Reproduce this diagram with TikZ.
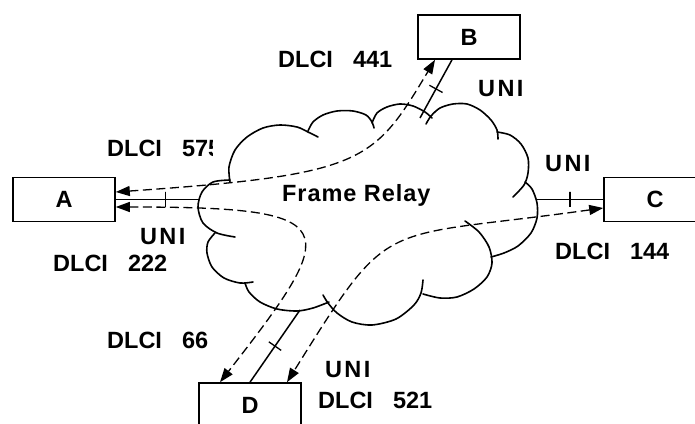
\documentclass[tikz,border=0pt]{standalone}
\usepackage{fontspec}
\setmainfont{Liberation Sans}
\usetikzlibrary{arrows.meta,calc}

\newcommand{\dlci}[1]{DLCI\hspace{20pt}#1}

\begin{document}
\begin{tikzpicture}[
  x=1pt, y=1pt,
  font=\fontsize{23.5}{27}\selectfont\bfseries,
  box/.style={rectangle, draw, line width=1.6pt, minimum width=102pt, minimum height=44pt, inner sep=0pt},
  lbl/.style={anchor=base west, inner sep=0pt},
  unilbl/.style={lbl, font=\fontsize{23.5}{27}\selectfont\bfseries\addfontfeature{LetterSpace=10}},
  cloud/.style={line width=1.6pt, line cap=round},
  uni/.style={line width=1.5pt},
  tickmark/.style={draw, sloped, line width=1.3pt, inner sep=0pt, minimum width=0pt, minimum height=15pt},
  vc/.style={<->, >={Triangle[length=14pt,width=10pt]}, line width=1.3pt, dash pattern=on 9pt off 4.5pt}
]
  \path[use as bounding box, clip] (0,0) rectangle (695,423);
  % Cloud: Frame Relay network
  \draw[cloud] plot[smooth] coordinates {(230,241) (229,256) (235,273) (247,286) (263,295) (280,298) (297,296) (308,291) (318,286)};
  \draw[cloud] plot[smooth] coordinates {(308,292) (313,301) (323,308) (337,312) (353,312) (366,308) (372,301) (374,295)};
  \draw[cloud] plot[smooth] coordinates {(372,300) (377,310) (387,316) (400,319) (413,317) (425,311) (432,305)};
  \draw[cloud] plot[smooth] coordinates {(426,299) (431,307) (440,315) (453,319) (467,319) (480,313) (491,303) (497,293) (498,284)};
  \draw[cloud] plot[smooth] coordinates {(497,291) (510,288) (521,279) (528,265) (528,250) (524,238) (513,226)};
  \draw[cloud] plot[smooth] coordinates {(525,241) (532,234) (537,220) (537,205) (531,190) (518,177) (504,170) (491,166)};
  \draw[cloud] plot[smooth] coordinates {(465,202) (479,191) (489,176) (492,160) (487,146) (474,134) (457,126) (440,125) (423,129)};
  \draw[cloud] plot[smooth] coordinates {(423,143) (421,130) (414,118) (396,104) (372,98) (352,101) (337,110) (328,120) (323,128)};
  \draw[cloud] plot[smooth] coordinates {(329,121) (313,115) (297,112) (277,114) (260,121) (249,131) (245,140)};
  \draw[cloud] plot[smooth] coordinates {(253,141) (240,140) (224,145) (212,156) (207,170) (208,181) (215,190)};
  \draw[cloud] plot[smooth] coordinates {(235,186) (217,190) (203,200) (198,216) (202,231) (213,241) (230,243)};
  \node[lbl, font=\fontsize{23.5}{27}\selectfont\bfseries\addfontfeature{LetterSpace=4}] (fr) at (282,221) {Frame Relay};
  % End devices
  \node[box] (A) at (64,223.5) {A};
  \node[box] (B) at (469,386) {B};
  \node[box] (C) at (655,223.5) {C};
  \node[box] (D) at (250,18) {D};
  % Access points on the cloud
  \coordinate (fa) at (200,223.5);
  \coordinate (fb) at (420,305);
  \coordinate (fc) at (537,223.5);
  \coordinate (fd) at (300,113);
  % UNI links
  \draw[uni] (A.east) -- node[tickmark, pos=0.59] (tA) {} (fa);
  \draw[uni] ([xshift=-17pt]B.south) -- node[tickmark, pos=0.5] (tB) {} (fb);
  \draw[uni] (C.west) -- node[tickmark, pos=0.5] (tC) {} (fc);
  \draw[uni] (D.north) -- node[tickmark, pos=0.5] (tD) {} (fd);
  % Virtual circuits
  \draw[vc] ([yshift=7.5pt]A.east) .. controls +(4:250) and +(239:120) .. ([xshift=-34pt]B.south);
  \draw[vc] ([yshift=-7.5pt]A.east) .. controls +(0:230) and +(52:200) .. ([xshift=-30pt]D.north);
  \draw[vc] ([yshift=-8.5pt]C.west) .. controls +(188:230) and +(58:200) .. ([xshift=37pt]D.north);
  % Labels
  \node[lbl] (l441) at (278,355) {\dlci{441}};
  \node[unilbl] (uB) at (478,326) {UNI};
  \begin{scope}
    \clip (0,0) rectangle (212,423);
    \node[lbl] (l575) at (107,266) {\dlci{575}};
  \end{scope}
  \node[unilbl] (uC) at (545,251) {UNI};
  \node[lbl] (l144) at (555,163) {\dlci{144}};
  \node[unilbl] (uA) at (140,178) {UNI};
  \node[lbl] (l222) at (53,151) {\dlci{222}};
  \node[lbl] (l66) at (107,75) {\dlci{66}};
  \node[unilbl] (uD) at (325,46) {UNI};
  \node[lbl] (l521) at (318,15) {\dlci{521}};
\end{tikzpicture}
\end{document}
